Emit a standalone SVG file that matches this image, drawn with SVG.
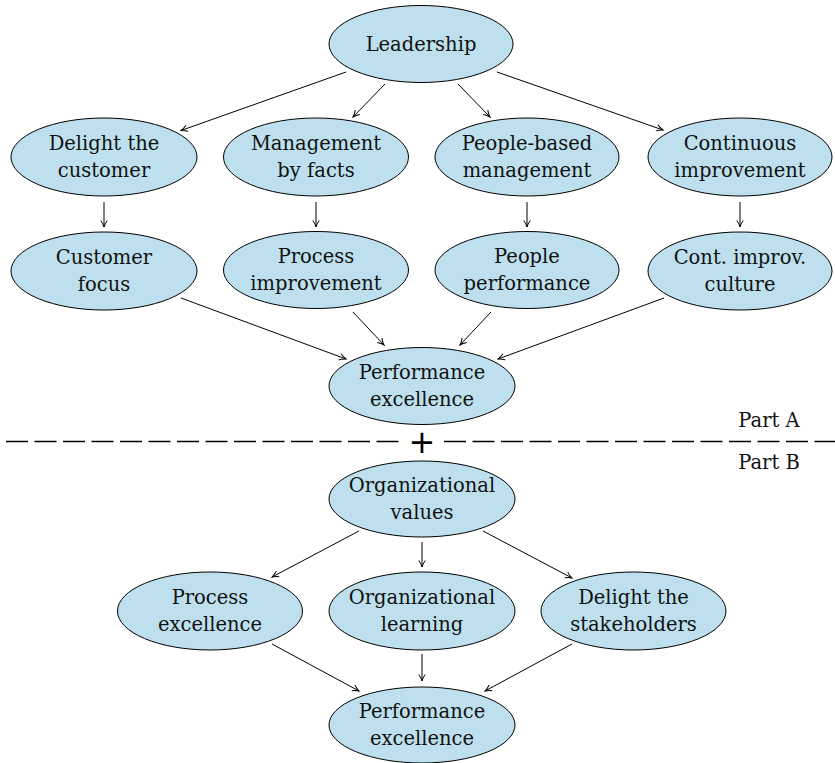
<svg xmlns="http://www.w3.org/2000/svg" width="835" height="763" viewBox="0 0 835 763">
<defs>
<marker id="arr" viewBox="-8 -5 9 10" markerWidth="9" markerHeight="10" refX="0" refY="0" orient="auto" markerUnits="userSpaceOnUse">
<path d="M-6.5,-3.2 Q-3,-0.8 0,0 Q-3,0.8 -6.5,3.2" fill="none" stroke="#000" stroke-width="1"/>
</marker>
</defs>
<style>
.n ellipse{fill:#bee0ee;stroke:#000;stroke-width:1}
text{font-family:"DejaVu Serif","Liberation Serif",serif;font-size:19.5px;fill:#111;text-anchor:middle}
.c line{stroke:#000;stroke-width:1;marker-end:url(#arr)}
.d{stroke:#000;stroke-width:1.3;stroke-dasharray:22 6.5;fill:none}
</style>
<rect width="835" height="763" fill="#fff"/>

<g id="leadership" class="n"><ellipse cx="421" cy="44" rx="92" ry="38.5"/><text x="421" y="51">Leadership</text></g>

<g id="delight-customer" class="n"><ellipse cx="104" cy="157" rx="93" ry="39"/><text x="104" y="150">Delight the</text><text x="104" y="177">customer</text></g>
<g id="management-facts" class="n"><ellipse cx="316" cy="157" rx="92.5" ry="39"/><text x="316" y="150">Management</text><text x="316" y="177">by facts</text></g>
<g id="people-based" class="n"><ellipse cx="527" cy="157" rx="92" ry="39"/><text x="527" y="150">People-based</text><text x="527" y="177">management</text></g>
<g id="continuous-improvement" class="n"><ellipse cx="740" cy="157" rx="92" ry="39"/><text x="740" y="150">Continuous</text><text x="740" y="177">improvement</text></g>

<g id="customer-focus" class="n"><ellipse cx="104" cy="271" rx="93" ry="39"/><text x="104" y="264">Customer</text><text x="104" y="291">focus</text></g>
<g id="process-improvement" class="n"><ellipse cx="316" cy="270" rx="92.5" ry="38.5"/><text x="316" y="263">Process</text><text x="316" y="290">improvement</text></g>
<g id="people-performance" class="n"><ellipse cx="527" cy="270" rx="92" ry="38.5"/><text x="527" y="263">People</text><text x="527" y="290">performance</text></g>
<g id="cont-improv-culture" class="n"><ellipse cx="740" cy="271" rx="92" ry="39"/><text x="740" y="264">Cont. improv.</text><text x="740" y="291">culture</text></g>

<g id="performance-excellence-a" class="n"><ellipse cx="422" cy="386" rx="93" ry="38.5"/><text x="422" y="379">Performance</text><text x="422" y="406">excellence</text></g>

<g id="divider">
<line class="d" x1="6" y1="441.5" x2="400" y2="441.5"/>
<line class="d" x1="444" y1="441.5" x2="835" y2="441.5"/>
<text x="422" y="452.5" style="font-family:'DejaVu Sans',sans-serif;font-size:32px;fill:#000">+</text>
<text x="769" y="427">Part A</text>
<text x="769" y="469">Part B</text>
</g>

<g id="organizational-values" class="n"><ellipse cx="422" cy="499" rx="93" ry="38"/><text x="422" y="492">Organizational</text><text x="422" y="519">values</text></g>
<g id="process-excellence" class="n"><ellipse cx="210" cy="611" rx="92.5" ry="39"/><text x="210" y="604">Process</text><text x="210" y="631">excellence</text></g>
<g id="organizational-learning" class="n"><ellipse cx="422" cy="611" rx="93" ry="39"/><text x="422" y="604">Organizational</text><text x="422" y="631">learning</text></g>
<g id="delight-stakeholders" class="n"><ellipse cx="633.5" cy="611" rx="92.5" ry="39"/><text x="633.5" y="604">Delight the</text><text x="633.5" y="631">stakeholders</text></g>
<g id="performance-excellence-b" class="n"><ellipse cx="422" cy="725" rx="93" ry="38"/><text x="422" y="718">Performance</text><text x="422" y="745">excellence</text></g>

<g id="connectors" class="c">
<line x1="346" y1="72" x2="181" y2="130.5"/>
<line x1="385" y1="84" x2="353" y2="117"/>
<line x1="458" y1="84" x2="490" y2="117"/>
<line x1="497" y1="72" x2="663" y2="130"/>
<line x1="104" y1="202" x2="104" y2="227"/>
<line x1="316" y1="202" x2="316" y2="227"/>
<line x1="527" y1="202" x2="527" y2="227"/>
<line x1="740" y1="202" x2="740" y2="227"/>
<line x1="181" y1="298" x2="346" y2="359"/>
<line x1="353" y1="312" x2="384" y2="345"/>
<line x1="491" y1="312" x2="460" y2="345"/>
<line x1="664" y1="298" x2="498" y2="359"/>
<line x1="359" y1="531" x2="272" y2="577"/>
<line x1="422" y1="542" x2="422" y2="567"/>
<line x1="483" y1="531" x2="572" y2="578"/>
<line x1="272" y1="644" x2="359" y2="691"/>
<line x1="422" y1="654" x2="422" y2="681"/>
<line x1="572" y1="644" x2="485" y2="691"/>
</g>
</svg>
